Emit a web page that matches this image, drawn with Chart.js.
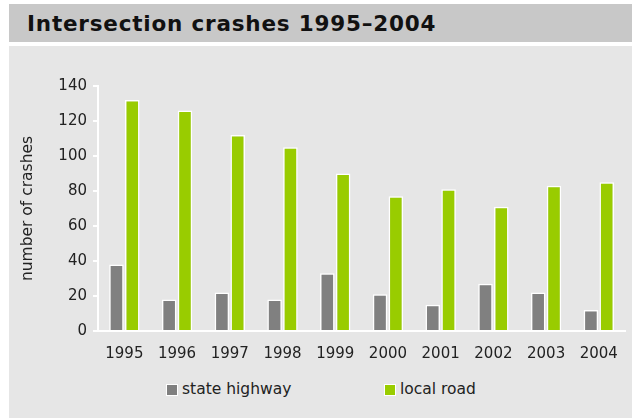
<!DOCTYPE html>
<html>
<head>
<meta charset="utf-8">
<script src="https://cdn.jsdelivr.net/npm/chart.js@4"></script>
<style>
  html, body { margin: 0; padding: 0; background: #ffffff; }
  body { width: 633px; height: 418px; position: relative; overflow: hidden; font-family: "DejaVu Sans", Verdana, sans-serif; }
  #titlebar { position: absolute; left: 9px; top: 4px; width: 623px; height: 38px; background: #c8c8c8; }
  #titlebar span { position: absolute; left: 18px; top: 7px; font-weight: bold; font-size: 21.5px; letter-spacing: 0.8px; color: #111; white-space: nowrap; }
  #panel { position: absolute; left: 9px; top: 46px; width: 623px; height: 372px; background: #e6e6e6; }
  #wrap { position: absolute; left: 0; top: 0; width: 623px; height: 330px; }
  .leg { position: absolute; top: 331px; height: 20px; font-size: 15.5px; color: #222; white-space: nowrap; }
  .leg i { position: absolute; left: 0; top: 7px; width: 10px; height: 10px; border: 1.5px solid #fff; }
  .leg b { position: absolute; left: 16px; top: 0px; font-weight: normal; line-height: 24px; }
</style>
</head>
<body>
<div id="titlebar"><span>Intersection crashes 1995–2004</span></div>
<div id="panel">
  <div id="wrap"><canvas id="c" width="623" height="330"></canvas></div>
  <div id="legend"></div>
</div>
<script>
const years = ['1995','1996','1997','1998','1999','2000','2001','2002','2003','2004'];
const stateHighway = [38, 18, 22, 18, 33, 21, 15, 27, 22, 12];
const localRoad = [132, 126, 112, 105, 90, 77, 81, 71, 83, 85];
const seriesNames = ['state highway', 'local road'];
const seriesColors = ['#808080', '#99cc00'];
const yTicks = [0, 20, 40, 60, 80, 100, 120, 140];

const fontFamily = '"DejaVu Sans", Verdana, sans-serif';

const chart = new Chart(document.getElementById('c'), {
  type: 'bar',
  data: {
    labels: years,
    datasets: [
      { label: seriesNames[0], data: stateHighway, backgroundColor: seriesColors[0], borderColor: '#ffffff', borderWidth: 1.5 },
      { label: seriesNames[1], data: localRoad, backgroundColor: seriesColors[1], borderColor: '#ffffff', borderWidth: 1.5 }
    ]
  },
  options: {
    responsive: false,
    animation: false,
    devicePixelRatio: 1,
    layout: { padding: { top: 40, right: 2, left: 0, bottom: 0 } },
    datasets: { bar: { categoryPercentage: 0.6, barPercentage: 0.92 } },
    plugins: {
      legend: { display: false },
      title: { display: false },
      tooltip: { enabled: false }
    },
    scales: {
      x: {
        grid: { display: false, drawTicks: false },
        border: { display: true, color: '#ffffff', width: 2 },
        ticks: { color: '#222', font: { family: fontFamily, size: 15 }, padding: 14, maxRotation: 0 },
        afterFit: (s) => { s.height = 45; }
      },
      y: {
        min: yTicks[0],
        max: yTicks[yTicks.length - 1],
        afterBuildTicks: (s) => { s.ticks = yTicks.map(v => ({ value: v })); },
        grid: { drawOnChartArea: false, drawTicks: true, tickLength: 5, color: '#ffffff', lineWidth: 2 },
        border: { display: true, color: '#ffffff', width: 2 },
        ticks: { color: '#222', font: { family: fontFamily, size: 15 }, padding: 6 },
        title: { display: true, text: 'number of crashes', color: '#222', font: { family: fontFamily, size: 15.5 }, padding: { top: 10, bottom: 0 } },
        afterFit: (s) => { s.width = 89; }
      }
    }
  }
});

// HTML legend built from the chart's datasets
const legendEl = document.getElementById('legend');
const legendLefts = [157, 375];
chart.data.datasets.forEach((ds, i) => {
  const d = document.createElement('div');
  d.className = 'leg';
  d.style.left = legendLefts[i] + 'px';
  const sw = document.createElement('i');
  sw.style.background = ds.backgroundColor;
  const t = document.createElement('b');
  t.textContent = ds.label;
  d.appendChild(sw); d.appendChild(t);
  legendEl.appendChild(d);
});
</script>
</body>
</html>
